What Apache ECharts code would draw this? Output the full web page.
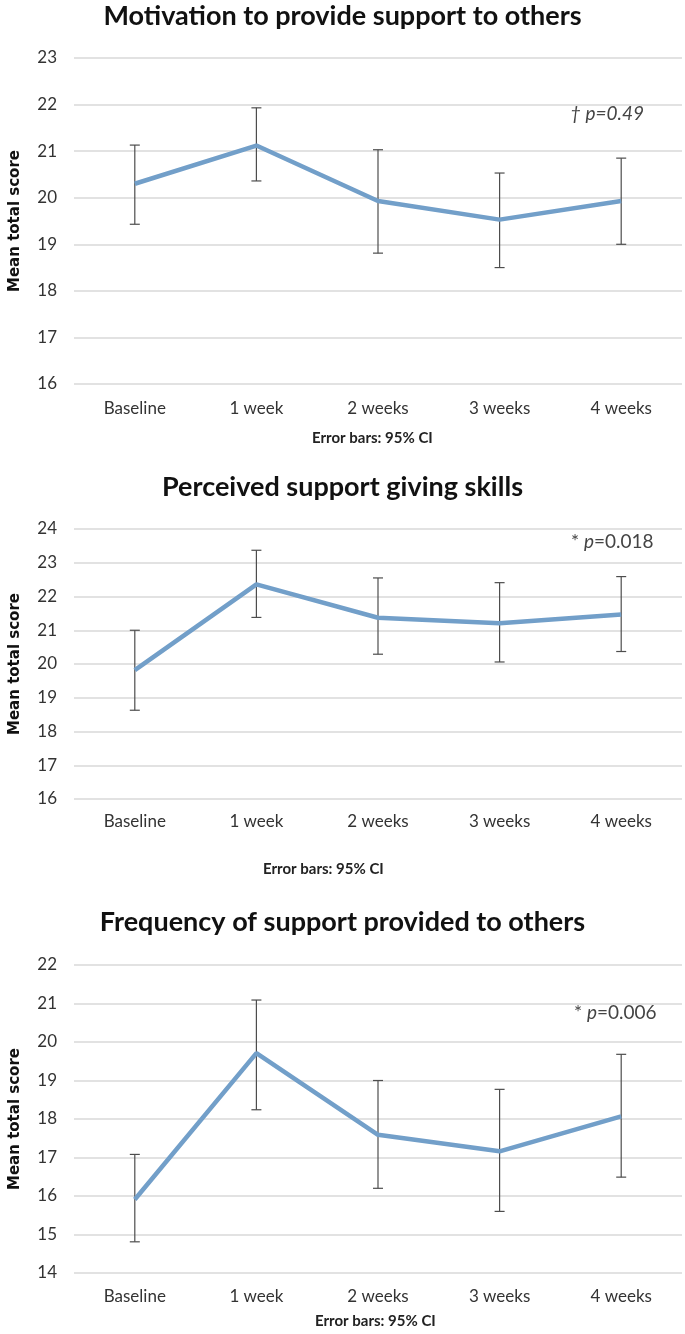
<!DOCTYPE html>
<html>
<head>
<meta charset="utf-8">
<script src="https://cdn.jsdelivr.net/npm/echarts@6/dist/echarts.min.js"></script>
<style>
  html, body { margin: 0; padding: 0; background: #fff; }
  #main { width: 685px; height: 1334px; }
</style>
</head>
<body>
<div id="main"></div>
<script>
const categories = ["Baseline", "1 week", "2 weeks", "3 weeks", "4 weeks"];

// Motivation to provide support to others
const motivationMean = [20.30, 21.12, 19.93, 19.53, 19.93];
const motivationLow = [19.43, 20.36, 18.81, 18.50, 19.00];
const motivationHigh = [21.13, 21.93, 21.03, 20.53, 20.85];

// Perceived support giving skills
const skillsMean = [19.82, 22.36, 21.37, 21.21, 21.47];
const skillsLow = [18.63, 21.38, 20.29, 20.06, 20.37];
const skillsHigh = [21.00, 23.37, 22.55, 22.41, 22.59];

// Frequency of support provided to others
const frequencyMean = [15.91, 19.71, 17.59, 17.16, 18.07];
const frequencyLow = [14.81, 18.24, 16.20, 15.60, 16.49];
const frequencyHigh = [17.08, 21.09, 19.00, 18.77, 19.68];

const yRanges = [[16, 23], [16, 24], [14, 22]];

const titles = [
  "Motivation to provide support to others",
  "Perceived support giving skills",
  "Frequency of support provided to others",
];
const noteTexts = ["{i|† p=0.49}", "{a|* }{i|p}{a|=0.018}", "{a|* }{i|p}{a|=0.006}"];
const footText = "Error bars: 95% CI";

const FONT = "Lato, 'Open Sans', sans-serif";
const lineColor = "#729fc9";
const barColor = "#4d4d4d";

const chart = echarts.init(document.getElementById("main"), null, { renderer: "canvas" });

const grids = [
  { left: 66, right: 3, top: 58, height: 326 },
  { left: 66, right: 3, top: 529, height: 270 },
  { left: 66, right: 3, top: 965, height: 308 },
];
const labelMargins = [16, 14, 15];

const seriesData = [
  [motivationMean, motivationLow, motivationHigh],
  [skillsMean, skillsLow, skillsHigh],
  [frequencyMean, frequencyLow, frequencyHigh],
];

function errorBarItem(params, api) {
  const x = api.value(0);
  const top = api.coord([x, api.value(2)]);
  const bottom = api.coord([x, api.value(1)]);
  const cap = 5;
  const style = { stroke: barColor, lineWidth: 1.2 };
  return {
    type: "group",
    children: [
      { type: "line", shape: { x1: top[0], y1: top[1], x2: bottom[0], y2: bottom[1] }, style },
      { type: "line", shape: { x1: top[0] - cap, y1: top[1], x2: top[0] + cap, y2: top[1] }, style },
      { type: "line", shape: { x1: bottom[0] - cap, y1: bottom[1], x2: bottom[0] + cap, y2: bottom[1] }, style },
    ],
  };
}

const xAxes = grids.map((g, i) => ({
  type: "category",
  gridIndex: i,
  data: categories,
  boundaryGap: true,
  axisLine: { show: false },
  axisTick: { show: false },
  axisLabel: { margin: labelMargins[i], fontSize: 17, color: "#333", fontFamily: FONT },
}));

const yAxes = grids.map((g, i) => ({
  type: "value",
  gridIndex: i,
  min: yRanges[i][0],
  max: yRanges[i][1],
  interval: 1,
  name: "Mean total score",
  nameLocation: "middle",
  nameRotate: 90,
  nameGap: 51,
  nameTextStyle: { fontSize: 15, fontWeight: "bold", color: "#111", fontFamily: "'DejaVu Sans', sans-serif" },
  axisLine: { show: false },
  axisTick: { show: false },
  axisLabel: { margin: 17, fontSize: 17, color: "#333", fontFamily: FONT },
  splitLine: { lineStyle: { color: "#d9d9d9", width: 1.5 } },
}));

const series = [];
seriesData.forEach(([mean, low, high], i) => {
  series.push({
    type: "custom",
    xAxisIndex: i,
    yAxisIndex: i,
    renderItem: errorBarItem,
    data: categories.map((c, k) => [k, low[k], high[k]]),
    z: 3,
    silent: true,
  });
  series.push({
    type: "line",
    xAxisIndex: i,
    yAxisIndex: i,
    data: mean,
    symbol: "none",
    lineStyle: { color: lineColor, width: 4.5 },
    z: 4,
  });
});

const titleTops = [3, 474, 909];
const noteBoxes = [[570, 104], [571, 532], [574, 1003]];
const footBoxes = [[312, 431], [263, 862], [315, 1314]];

const graphics = [];
titles.forEach((t, i) => {
  graphics.push({
    type: "text",
    left: "center",
    top: titleTops[i],
    style: { text: t, fontSize: 27, fontWeight: "bold", fill: "#111", fontFamily: FONT },
  });
});
footBoxes.forEach(([x, y]) => {
  graphics.push({
    type: "text",
    left: x,
    top: y,
    style: { text: footText, fontSize: 15, fontWeight: "bold", fill: "#222", fontFamily: FONT },
  });
});
noteBoxes.forEach(([x, y], i) => {
  graphics.push({
    type: "text",
    left: x,
    top: y,
    style: {
      text: noteTexts[i],
      fontFamily: FONT,
      fill: "#444",
      rich: {
        a: { fontSize: 19, fill: "#444", fontFamily: FONT },
        i: { fontSize: 19, fontStyle: "italic", fill: "#444", fontFamily: FONT },
      },
    },
  });
});

chart.setOption({
  animation: false,
  grid: grids,
  xAxis: xAxes,
  yAxis: yAxes,
  series,
  graphic: graphics,
});
</script>
</body>
</html>
